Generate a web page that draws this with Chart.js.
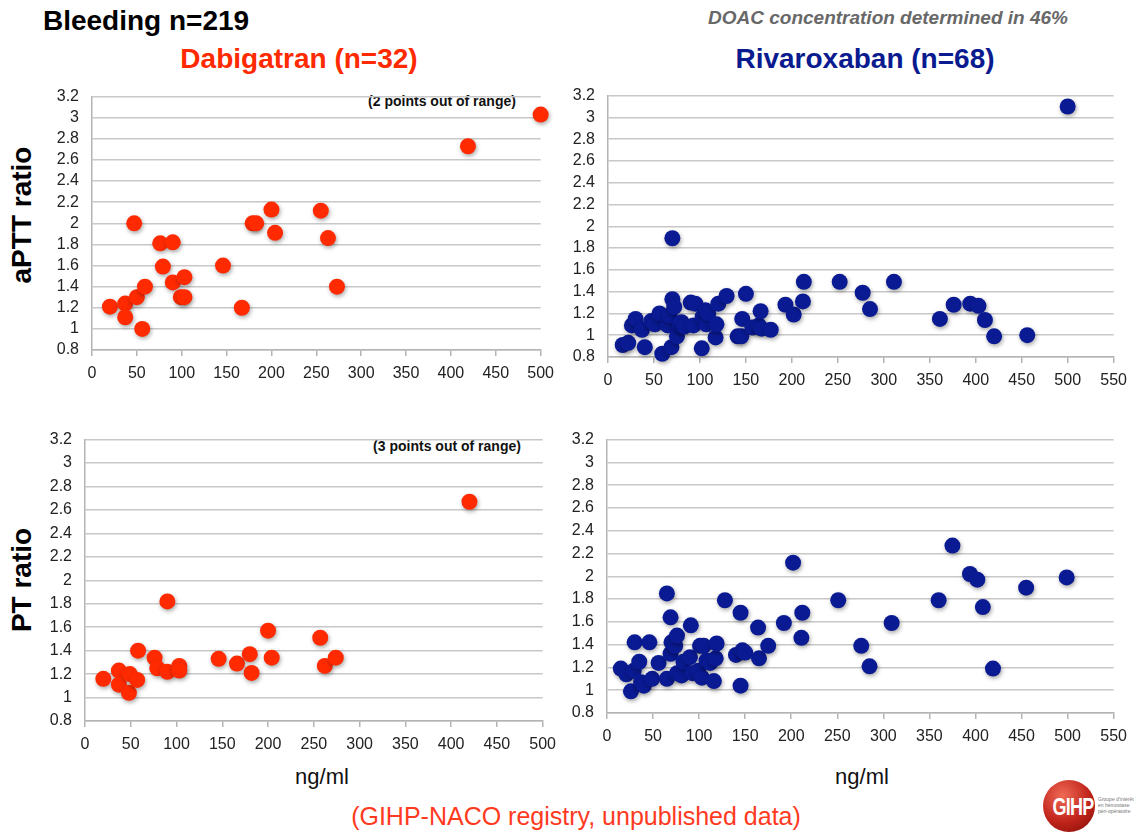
<!DOCTYPE html>
<html>
<head>
<meta charset="utf-8">
<script src="https://cdn.jsdelivr.net/npm/chart.js@4.4.1/dist/chart.umd.min.js"></script>
<style>
  body { margin: 0; background: #fff; font-family: "Liberation Sans", Arial, Helvetica, sans-serif; }
  #pagina { position: relative; width: 1136px; height: 834px; overflow: hidden; }
  canvas { position: absolute; }
  .txt { position: absolute; transform: translate(-50%, -50%); white-space: nowrap; line-height: 1; }
  .vert { transform: translate(-50%, -50%) rotate(-90deg); }
</style>
</head>
<body>
<div id="pagina">
  <div class="txt" style="left:146px;top:21px;font-size:28px;font-weight:bold;color:#000">Bleeding n=219</div>
  <div class="txt" style="left:299px;top:59px;font-size:28px;font-weight:bold;color:#ff2a00">Dabigatran (n=32)</div>
  <div class="txt" style="left:888px;top:17px;font-size:19px;font-weight:bold;font-style:italic;color:#686868">DOAC concentration determined in 46%</div>
  <div class="txt" style="left:865px;top:59px;font-size:28px;font-weight:bold;color:#0a1a8f">Rivaroxaban (n=68)</div>
  <div class="txt vert" style="left:22px;top:215px;font-size:28px;font-weight:bold;color:#000">aPTT ratio</div>
  <div class="txt vert" style="left:22px;top:580px;font-size:28px;font-weight:bold;color:#000">PT ratio</div>
  <div class="txt" style="left:442px;top:101px;font-size:14px;font-weight:bold;color:#111">(2 points out of range)</div>
  <div class="txt" style="left:447px;top:446px;font-size:14px;font-weight:bold;color:#111">(3 points out of range)</div>
  <div class="txt" style="left:322px;top:777px;font-size:22px;color:#111">ng/ml</div>
  <div class="txt" style="left:862px;top:777px;font-size:22px;color:#111">ng/ml</div>
  <div class="txt" style="left:576px;top:816px;font-size:25px;color:#ff3a1f">(GIHP-NACO registry, unpublished data)</div>

  <!-- logo GIHP -->
  <div style="position:absolute;left:1043px;top:780px;width:52px;height:52px;border-radius:50%;background:radial-gradient(circle at 38% 30%, #ef6a55, #c0231a 55%, #7d0d07)"></div>
  <div class="txt" style="left:1073px;top:807px;font-size:24px;font-weight:bold;color:#fff;letter-spacing:-1px;transform:translate(-50%,-50%) scaleX(0.75)">GIHP</div>
  <div style="position:absolute;left:1098px;top:796px;font-size:5px;line-height:6px;color:#777;white-space:nowrap">Groupe d'intérêt<br>en hémostase<br>péri-opératoire</div>

  <canvas id="grafTL" width="520" height="306" style="left:42px;top:74px"></canvas>
  <canvas id="grafTR" width="577" height="314" style="left:558px;top:73px"></canvas>
  <canvas id="grafBL" width="529" height="334" style="left:35px;top:417px"></canvas>
  <canvas id="grafBR" width="578" height="326" style="left:557px;top:417px"></canvas>
</div>

<script>
// ticks
const ratioTicks = [0.8, 1, 1.2, 1.4, 1.6, 1.8, 2, 2.2, 2.4, 2.6, 2.8, 3, 3.2];
const dabiXTicks = [0, 50, 100, 150, 200, 250, 300, 350, 400, 450, 500];
const rivaXTicks = [0, 50, 100, 150, 200, 250, 300, 350, 400, 450, 500, 550];

// dabigatran - aPTT ratio
const dabiApttX = [20, 37, 37, 47, 50, 56, 59, 76, 79, 90, 90, 103, 99, 103, 146, 167, 179, 183, 200, 204, 255, 263, 273, 419, 500];
const dabiApttY = [1.21, 1.24, 1.11, 2.00, 1.30, 1.00, 1.40, 1.81, 1.59, 1.82, 1.44, 1.49, 1.30, 1.30, 1.60, 1.20, 2.00, 2.00, 2.13, 1.91, 2.12, 1.86, 1.40, 2.73, 3.03];

// rivaroxaban - aPTT ratio
const rivaApttX = [16, 22, 26, 30, 37, 40, 47, 51, 56, 59, 65, 67, 69, 70, 70, 72, 75, 78, 80, 83, 90, 93, 95, 102, 103, 106, 107, 109, 117, 118, 120, 129, 141, 145, 146, 150, 157, 164, 166, 167, 177, 193, 202, 212, 213, 252, 277, 285, 311, 361, 376, 394, 403, 410, 420, 456, 500];
const rivaApttY = [0.91, 0.93, 1.09, 1.15, 1.05, 0.89, 1.13, 1.10, 1.20, 0.83, 1.09, 1.18, 0.89, 1.89, 1.33, 1.26, 0.99, 1.10, 1.12, 1.08, 1.30, 1.09, 1.29, 0.88, 1.17, 1.23, 1.10, 1.20, 0.98, 1.10, 1.29, 1.36, 0.99, 0.99, 1.15, 1.38, 1.07, 1.09, 1.22, 1.06, 1.05, 1.28, 1.19, 1.31, 1.49, 1.49, 1.39, 1.24, 1.49, 1.15, 1.28, 1.29, 1.27, 1.14, 0.99, 1.00, 3.10];

// dabigatran - PT ratio
const dabiPtX = [20, 37, 37, 48, 49, 57, 58, 76, 79, 90, 90, 103, 103, 146, 166, 180, 182, 200, 204, 257, 262, 274, 420];
const dabiPtY = [1.16, 1.23, 1.11, 1.04, 1.20, 1.15, 1.40, 1.34, 1.25, 1.82, 1.22, 1.27, 1.23, 1.33, 1.29, 1.37, 1.21, 1.57, 1.34, 1.51, 1.27, 1.34, 2.67];

// rivaroxaban - PT ratio
const rivaPtX = [15, 21, 26, 29, 30, 35, 37, 40, 46, 49, 56, 65, 65, 69, 69, 70, 74, 76, 76, 81, 83, 90, 91, 93, 99, 101, 103, 105, 108, 112, 116, 118, 119, 128, 140, 145, 145, 147, 150, 164, 165, 175, 192, 202, 211, 212, 251, 276, 285, 309, 360, 375, 394, 402, 408, 419, 455, 499];
const rivaPtY = [1.19, 1.14, 0.99, 1.17, 1.42, 1.25, 1.07, 1.04, 1.42, 1.10, 1.24, 1.85, 1.10, 1.64, 1.32, 1.42, 1.39, 1.48, 1.15, 1.13, 1.25, 1.29, 1.57, 1.15, 1.17, 1.39, 1.11, 1.39, 1.26, 1.24, 1.08, 1.28, 1.41, 1.79, 1.31, 1.04, 1.68, 1.35, 1.33, 1.55, 1.28, 1.39, 1.59, 2.12, 1.46, 1.68, 1.79, 1.39, 1.21, 1.59, 1.79, 2.27, 2.02, 1.97, 1.73, 1.19, 1.90, 1.99];

const vermelho = "#ff2a00";
const azul = "#0a1a92";
const fonte = "'Liberation Sans', Arial, Helvetica, sans-serif";

// little drop shadow under the dots
const sombra = {
  id: "sombra",
  beforeDatasetsDraw(chart) {
    const c = chart.ctx;
    c.save();
    c.shadowColor = "rgba(0,0,0,0.35)";
    c.shadowBlur = 4;
    c.shadowOffsetX = 1;
    c.shadowOffsetY = 2;
  },
  afterDatasetsDraw(chart) {
    chart.ctx.restore();
  }
};

function plotar(id, xs, ys, cor, xTicks, padRight) {
  let pontos = [];
  for (let i = 0; i < xs.length; i++) {
    pontos.push({ x: xs[i], y: ys[i] });
  }

  const config = {
    type: "scatter",
    data: {
      datasets: [{
        data: pontos,
        backgroundColor: cor,
        borderWidth: 0,
        pointRadius: 8,
        pointHoverRadius: 8,
        clip: false
      }]
    },
    options: {
      responsive: false,
      animation: false,
      layout: { padding: { top: 10, right: padRight, left: 0, bottom: 0 } },
      plugins: {
        legend: { display: false },
        tooltip: { enabled: false }
      },
      scales: {
        x: {
          type: "linear",
          min: xTicks[0],
          max: xTicks[xTicks.length - 1],
          afterBuildTicks: (s) => { s.ticks = xTicks.map(v => ({ value: v })); },
          afterFit: (s) => { s.height = 30; },
          grid: { drawOnChartArea: false, drawTicks: true, tickLength: 6, color: "#b4b4b4", lineWidth: 1.5 },
          border: { color: "#b4b4b4", width: 1.5 },
          ticks: { color: "#222", padding: 8, maxRotation: 0, autoSkip: false, font: { family: fonte, size: 16 } }
        },
        y: {
          min: ratioTicks[0],
          max: ratioTicks[ratioTicks.length - 1],
          afterBuildTicks: (s) => { s.ticks = ratioTicks.map(v => ({ value: v })); },
          afterFit: (s) => { s.width = 50; },
          grid: { color: "#c8c8c8", lineWidth: 1.5, drawTicks: false },
          border: { color: "#b4b4b4", width: 1.5 },
          ticks: {
            color: "#222",
            padding: 13,
            autoSkip: false,
            font: { family: fonte, size: 16 },
            callback: (v) => String(Math.round(v * 10) / 10)
          }
        }
      }
    },
    plugins: [sombra]
  };

  return new Chart(document.getElementById(id), config);
}

plotar("grafTL", dabiApttX, dabiApttY, vermelho, dabiXTicks, 20);
plotar("grafTR", rivaApttX, rivaApttY, azul, rivaXTicks, 18);
plotar("grafBL", dabiPtX, dabiPtY, vermelho, dabiXTicks, 20);
plotar("grafBR", rivaPtX, rivaPtY, azul, rivaXTicks, 16);
</script>
</body>
</html>
